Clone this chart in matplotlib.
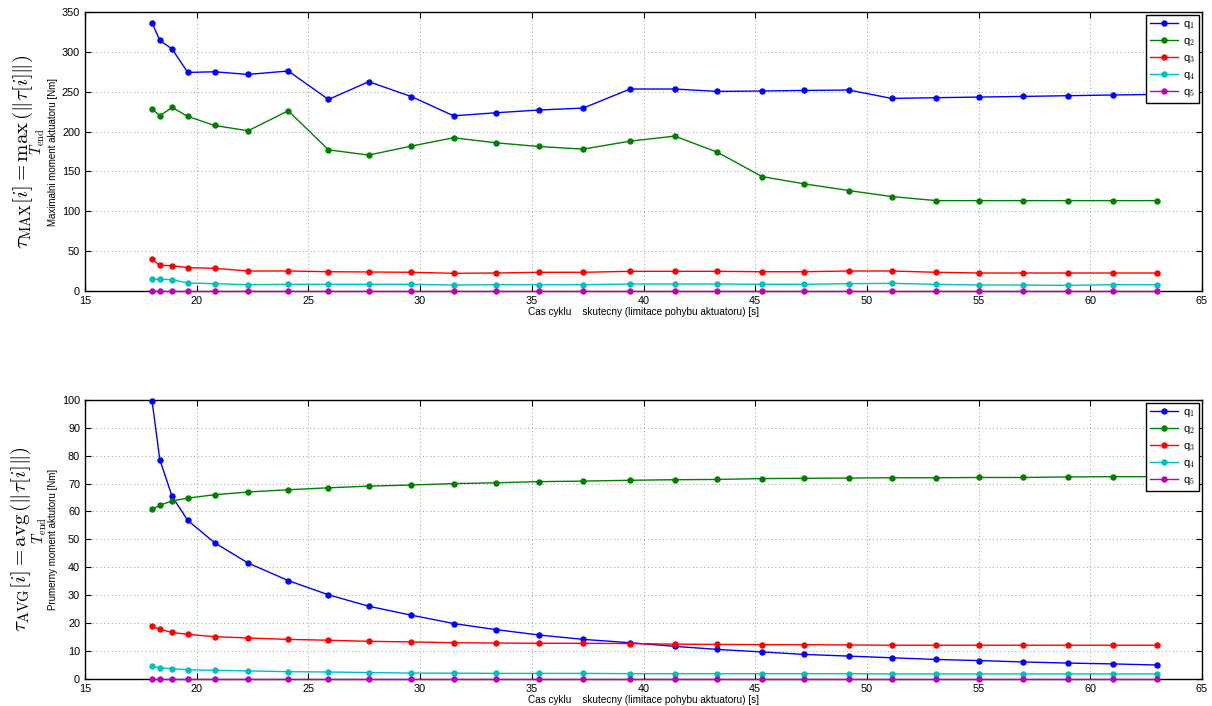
import numpy as np
import matplotlib
matplotlib.use('Agg')
import matplotlib.pyplot as plt

plt.rcParams['font.family'] = ['Liberation Sans', 'DejaVu Sans']
plt.rcParams['mathtext.fontset'] = 'cm'

# cycle time [s]
t_cycle = [18.0, 18.35, 18.9, 19.6, 20.8, 22.3, 24.1, 25.9, 27.7, 29.6, 31.5, 33.4, 35.3, 37.3,
           39.4, 41.4, 43.3, 45.3, 47.2, 49.2, 51.1, 53.1, 55.0, 57.0, 59.0, 61.0, 63.0]

# maximum torque [Nm]
max_q1 = [336.7, 314.4, 303.6, 274.2, 275.0, 271.7, 276.0, 240.3, 262.6, 244.0, 219.8, 223.6, 227.0, 229.5,
          253.4, 253.4, 250.4, 250.9, 251.6, 252.1, 241.6, 242.5, 243.3, 244.1, 245.0, 245.9, 246.6]
max_q2 = [228.6, 219.8, 230.3, 219.0, 207.7, 201.0, 226.1, 177.1, 170.5, 181.8, 192.2, 185.9, 181.3, 178.0,
          188.0, 194.3, 174.2, 143.6, 134.4, 126.0, 118.5, 113.4, 113.4, 113.4, 113.4, 113.4, 113.4]
max_q3 = [39.8, 32.3, 31.8, 29.3, 28.5, 25.1, 25.1, 24.2, 23.9, 23.5, 22.2, 22.6, 23.5, 23.5,
          24.7, 24.7, 24.7, 24.2, 24.2, 25.1, 25.1, 23.5, 22.6, 22.6, 22.6, 22.6, 22.6]
max_q4 = [14.7, 14.7, 14.2, 10.1, 9.2, 7.9, 8.4, 8.4, 8.4, 8.4, 7.5, 7.9, 7.9, 7.9,
          8.8, 8.8, 8.8, 8.4, 8.4, 9.2, 9.6, 8.4, 7.5, 7.5, 7.1, 7.9, 7.9]
max_q5 = [0.0] * 27

# average torque [Nm]
avg_q1 = [99.8, 78.6, 65.4, 56.8, 48.8, 41.5, 35.2, 30.1, 26.0, 22.8, 19.8, 17.6, 15.7, 14.1,
          12.9, 11.6, 10.5, 9.6, 8.7, 8.1, 7.5, 6.9, 6.5, 6.0, 5.6, 5.3, 4.9]
avg_q2 = [60.8, 62.2, 63.8, 64.8, 66.0, 67.0, 67.8, 68.5, 69.1, 69.5, 70.0, 70.3, 70.7, 70.9,
          71.2, 71.4, 71.5, 71.8, 71.9, 72.0, 72.1, 72.1, 72.2, 72.2, 72.4, 72.5, 72.5]
avg_q3 = [18.8, 17.7, 16.6, 15.9, 15.1, 14.6, 14.1, 13.8, 13.4, 13.2, 12.9, 12.8, 12.7, 12.7,
          12.6, 12.4, 12.3, 12.2, 12.2, 12.1, 12.0, 12.0, 12.0, 12.0, 12.0, 12.0, 12.0]
avg_q4 = [4.4, 3.9, 3.6, 3.2, 3.0, 2.8, 2.5, 2.4, 2.2, 2.0, 2.0, 1.9, 1.9, 1.9,
          1.8, 1.8, 1.8, 1.8, 1.8, 1.8, 1.7, 1.7, 1.7, 1.7, 1.7, 1.7, 1.7]
avg_q5 = [0.0] * 27

labels = ['q$_1$', 'q$_2$', 'q$_3$', 'q$_4$', 'q$_5$']
colors = ['#0000ff', '#008000', '#ff0000', '#00bfbf', '#bf00bf']

fig = plt.figure(figsize=(12.12, 7.06), dpi=100)
ax1 = fig.add_axes([0.0701, 0.5878, 0.9217, 0.3952])
ax2 = fig.add_axes([0.0701, 0.0387, 0.9217, 0.3947])


def style_axes(ax, series, ymax, ystep, ylabel):
    for y, c, lab in zip(series, colors, labels):
        ax.plot(t_cycle, y, '-o', color=c, lw=1.0, ms=3.6, label=lab, clip_on=False, zorder=3)
    ax.set_xlim(15, 65)
    ax.set_ylim(0, ymax)
    ax.set_xticks(np.arange(15, 66, 5))
    ax.set_yticks(np.arange(0, ymax + 1, ystep))
    ax.grid(True, linestyle=(0, (1, 3.5)), color='#808080', linewidth=0.6)
    ax.tick_params(direction='in', top=True, right=True, labelsize=7.8, length=4, width=0.8)
    for s in ax.spines.values():
        s.set_linewidth(1.0)
    ax.set_xlabel('Cas cyklu    skutecny (limitace pohybu aktuatoru) [s]', fontsize=7.2, labelpad=1)
    ax.set_ylabel(ylabel, fontsize=7, labelpad=3)
    leg = ax.legend(loc='upper right', fontsize=8, handlelength=2.5, fancybox=False,
                    framealpha=1, edgecolor='black', borderpad=0.35, labelspacing=0.45,
                    handletextpad=0.4, borderaxespad=0.3)
    leg.get_frame().set_linewidth(1.0)


style_axes(ax1, [max_q1, max_q2, max_q3, max_q4, max_q5], 350, 50,
           'Maximalni moment aktuatoru [Nm]')
style_axes(ax2, [avg_q1, avg_q2, avg_q3, avg_q4, avg_q5], 100, 10,
           'Prumerny moment aktutoru [Nm]')

fig.text(0.024, 0.785,
         r'$\mathbf{\tau}_{\mathrm{MAX}}[i] = \underset{T_{\mathrm{end}}}{\max}\,(\Vert\mathbf{\tau}[i]\Vert)$',
         rotation=90, ha='center', va='center', fontsize=15)
fig.text(0.024, 0.236,
         r'$\mathbf{\tau}_{\mathrm{AVG}}[i] = \underset{T_{\mathrm{end}}}{\mathrm{avg}}\,(\Vert\mathbf{\tau}[i]\Vert)$',
         rotation=90, ha='center', va='center', fontsize=15)

fig.savefig('out.png', dpi=100)
